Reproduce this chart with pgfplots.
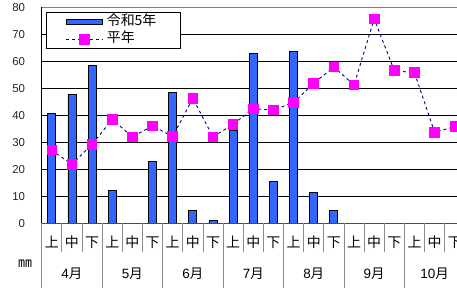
\documentclass[border=0pt]{standalone}
\usepackage{fontspec}
\setmainfont{Liberation Sans}
\newfontfamily\jp{Noto Sans CJK JP}
\usepackage{pgfplots}
\pgfplotsset{compat=1.18}
\definecolor{barblue}{HTML}{3366FF}
\definecolor{navyline}{HTML}{000080}
\definecolor{mag}{HTML}{FF00FF}
\pgfplotsset{
  lineleg/.style={legend image code/.code={\draw[##1, mark repeat=2, mark phase=2] plot coordinates {(0bp,0bp) (18bp,0bp) (36bp,0bp)};}},
  barleg/.style={legend image code/.code={\draw[fill=barblue, draw=black, line width=0.8bp] (0bp,-2.8bp) rectangle (36bp,2.8bp);}},
}
\begin{document}
\begin{tikzpicture}
\useasboundingbox (0,0) rectangle (457bp,288bp);
\clip (0,0) rectangle (457bp,288bp);
\begin{axis}[
  at={(41.7bp,64.7bp)}, anchor=south west,
  scale only axis, width=415.3bp, height=216bp,
  xmin=-0.5, xmax=20.11, ymin=0, ymax=80,
  axis line style={draw=none},
  clip=false,
  ytick={0,10,...,80},
  ymajorgrids, major grid style={black, line width=0.8bp},
  major tick length=0pt,
  /pgf/number format/assume math mode=true,
  yticklabel style={anchor=east, inner sep=0pt, xshift=-16.5bp, font=\fontsize{11.5}{13}\selectfont, text=black!85},
  xtick={0,...,20},
  xticklabels={上,中,下,上,中,下,上,中,下,上,中,下,上,中,下,上,中,下,上,中,下},
  xticklabel style={anchor=center, inner sep=0pt, yshift=-19bp, font=\jp\fontsize{14}{16}\selectfont},
  legend style={at={(0.0104,0.976)}, anchor=north west, draw=black, fill=white, line width=0.8bp,
    font=\jp\fontsize{14}{16}\selectfont, row sep=0bp, inner xsep=19.5bp, inner ysep=0.5bp,
    nodes={inner xsep=4bp, inner ysep=1.65bp, text height=10.5bp, text depth=3.5bp}},
  legend cell align=left,
]
\addplot[ybar, bar width=8bp, bar shift=0pt, fill=barblue, draw=black, line width=0.8bp, barleg]
  coordinates {(0,40.6) (1,47.8) (2,58.5) (3,12.2) (5,23.0) (6,48.5) (7,4.6) (8,0.9)
    (9,34.4) (10,63.0) (11,15.4) (12,63.7) (13,11.5) (14,4.8)};
\addlegendentry{令和5年}
\addplot[navyline, dashed, line width=0.9bp, mark=square*, mark size=4.8bp,
  mark options={solid, fill=mag, draw=mag}, lineleg]
  coordinates {(0,27.1) (1,21.8) (2,29.3) (3,38.5) (4,32.0) (5,36.1) (6,32.1) (7,46.3)
    (8,32.0) (9,36.7) (10,42.4) (11,42.0) (12,44.7) (13,51.9) (14,57.9) (15,51.2)
    (16,75.7) (17,56.5) (18,55.8) (19,33.7) (20,35.8)};
\addlegendentry{平年}
% axis frame
\draw[black!50, line width=0.8bp] (axis cs:-0.5,80) -- (axis cs:20.11,80);
\draw[black, line width=0.8bp] (axis cs:-0.5,0) -- (axis cs:-0.5,80);
\draw[black!70, line width=0.8bp] (axis cs:-0.5,0) -- (axis cs:20.11,0);
% separators
\pgfplotsinvokeforeach{0.5,1.5,3.5,4.5,6.5,7.5,9.5,10.5,12.5,13.5,15.5,16.5,18.5,19.5}{
  \draw[black!45, line width=0.8bp] (axis cs:#1,0) -- ([yshift=-29bp]axis cs:#1,0);
}
\pgfplotsinvokeforeach{-0.5,2.5,5.5,8.5,11.5,14.5,17.5}{
  \draw[black!45, line width=0.8bp] (axis cs:#1,0) -- ([yshift=-66bp]axis cs:#1,0);
}
% month labels
\node[font=\fontsize{13.5}{15}\selectfont] at ([yshift=-50.5bp]axis cs:1,0) {4\jp 月};
\node[font=\fontsize{13.5}{15}\selectfont] at ([yshift=-50.5bp]axis cs:4,0) {5\jp 月};
\node[font=\fontsize{13.5}{15}\selectfont] at ([yshift=-50.5bp]axis cs:7,0) {6\jp 月};
\node[font=\fontsize{13.5}{15}\selectfont] at ([yshift=-50.5bp]axis cs:10,0) {7\jp 月};
\node[font=\fontsize{13.5}{15}\selectfont] at ([yshift=-50.5bp]axis cs:13,0) {8\jp 月};
\node[font=\fontsize{13.5}{15}\selectfont] at ([yshift=-50.5bp]axis cs:16,0) {9\jp 月};
\node[font=\fontsize{13.5}{15}\selectfont] at ([yshift=-50.5bp]axis cs:19,0) {10\jp 月};
\node[font=\jp\fontsize{14}{16}\selectfont] at ([xshift=-16.7bp,yshift=-40.7bp]axis cs:-0.5,0) {㎜};
\end{axis}
\end{tikzpicture}
\end{document}
